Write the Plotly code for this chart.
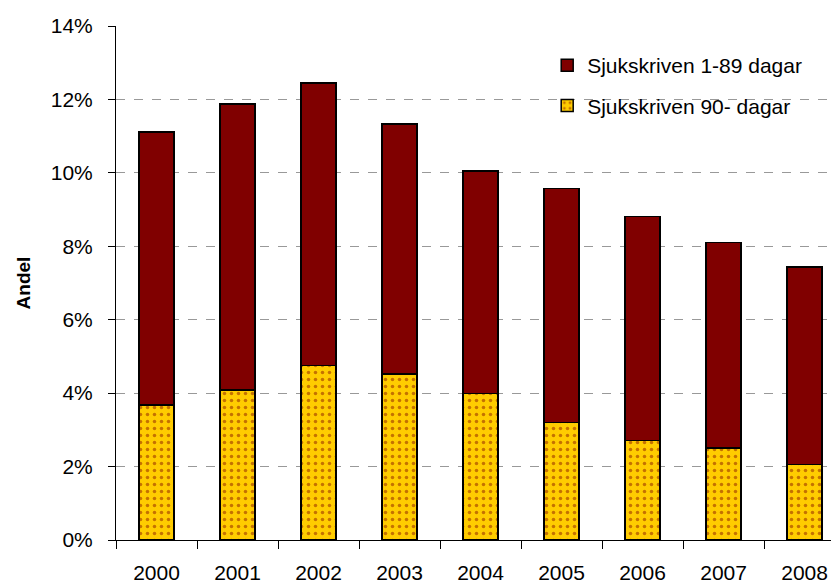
import plotly.graph_objects as go

years = ["2000", "2001", "2002", "2003", "2004", "2005", "2006", "2007", "2008"]
long_term = [3.68, 4.08, 4.75, 4.52, 3.99, 3.20, 2.71, 2.50, 2.05]      # Sjukskriven 90- dagar
short_term = [7.43, 7.79, 7.70, 6.81, 6.06, 6.37, 6.10, 5.60, 5.38]     # Sjukskriven 1-89 dagar
y_ticks = [0, 2, 4, 6, 8, 10, 12, 14]

FONT = "Liberation Sans, Arial, sans-serif"

fig = go.Figure()
fig.add_trace(go.Bar(
    x=years, y=long_term, name="Sjukskriven 90- dagar",
    legendgroup="b", legendrank=2,
    marker=dict(color="#FFCC00", line=dict(color="#000000", width=1.5),
                pattern=dict(shape=".", fgcolor="#8A1800", bgcolor="#FFCC00",
                             size=7, solidity=0.2, fillmode="overlay")),
))
fig.add_trace(go.Bar(
    x=years, y=short_term, name="Sjukskriven 1-89 dagar",
    legendgroup="a", legendrank=1,
    marker=dict(color="#800000", line=dict(color="#000000", width=1.5)),
))

# page body has an 8px default margin, so the figure is sized to fill the rest of the window
fig.update_layout(
    width=831, height=577,
    barmode="stack", bargap=0.57,
    paper_bgcolor="white", plot_bgcolor="white",
    margin=dict(l=107.5, r=0, t=18, b=45.4),
    font=dict(family=FONT, size=21, color="black"),
    legend=dict(x=0.5964, y=0.963, xanchor="left", yanchor="top",
                traceorder="grouped", tracegroupgap=10,
                font=dict(size=21), bgcolor="rgba(0,0,0,0)"),
    xaxis=dict(range=[-0.5, 8.425], type="category", automargin=False,
               showline=True, linecolor="black", linewidth=1,
               ticks="outside", ticklen=8, tickcolor="black", tickson="boundaries",
               ticklabelstandoff=14, showgrid=False,
               tickfont=dict(size=21)),
    yaxis=dict(range=[0, 14], tickvals=y_ticks, automargin=False,
               ticktext=[f"{v}%" for v in y_ticks],
               showline=True, linecolor="black", linewidth=1,
               ticks="outside", ticklen=7, tickcolor="black",
               showgrid=True, gridcolor="#999999", griddash="dash", gridwidth=1,
               zeroline=False, ticklabelstandoff=11,
               tickfont=dict(size=21),
               title=dict(text="<b>Andel</b>", font=dict(size=19), standoff=15)),
)

fig.write_html("out.html")
